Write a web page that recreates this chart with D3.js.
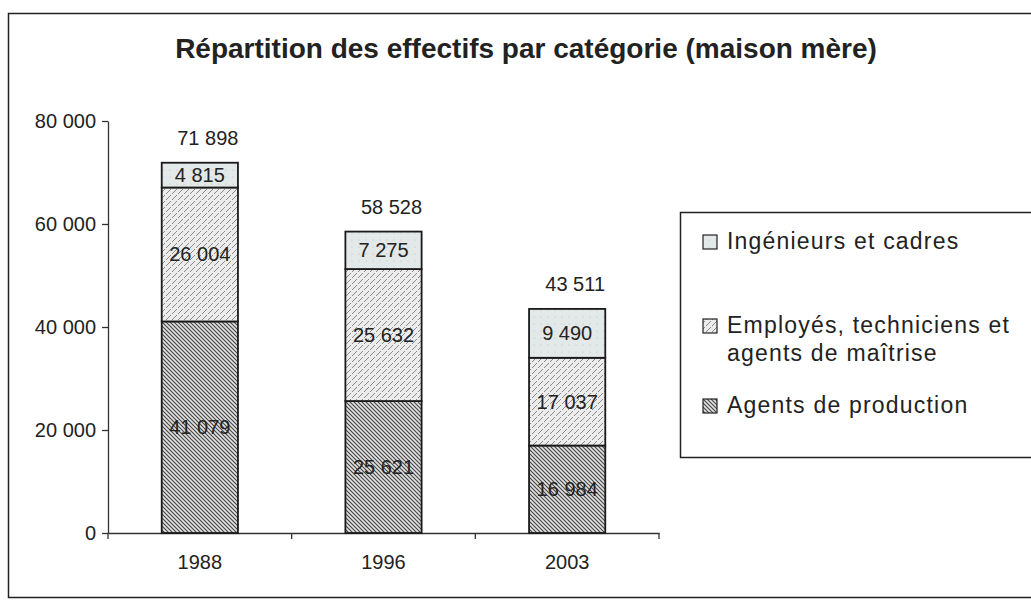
<!DOCTYPE html>
<html>
<head>
<meta charset="utf-8">
<script src="https://cdn.jsdelivr.net/npm/d3@7"></script>
<style>
  body { margin: 0; background: #fff; }
  svg { display: block; font-family: "Liberation Sans", Arial, sans-serif; }
</style>
</head>
<body>
<svg id="chart" width="1031" height="602"></svg>
<script>
// data
var years = ["1988", "1996", "2003"];
var agents = [41079, 25621, 16984];
var employes = [26004, 25632, 17037];
var ingenieurs = [4815, 7275, 9490];
var seriesNames = ["Agents de production", "Employés, techniciens et agents de maîtrise", "Ingénieurs et cadres"];
var yTicks = [0, 20000, 40000, 60000, 80000];

var svg = d3.select("#chart");
var fr = d3.formatLocale({decimal: ",", thousands: " ", grouping: [3], currency: ["", " €"]});
var fmt = fr.format(",d");

// patterns
var defs = svg.append("defs");
var p1 = defs.append("pattern").attr("id", "pAgents").attr("patternUnits", "userSpaceOnUse")
    .attr("width", 4).attr("height", 4);
p1.append("rect").attr("width", 4).attr("height", 4).attr("fill", "#e0e0e0");
p1.append("path").attr("d", "M-1,-1 L5,5 M-1,3 L1,5 M3,-1 L5,1").attr("stroke", "#444").attr("stroke-width", 1.1);

var p2 = defs.append("pattern").attr("id", "pEmpl").attr("patternUnits", "userSpaceOnUse")
    .attr("width", 6).attr("height", 6);
p2.append("rect").attr("width", 6).attr("height", 6).attr("fill", "#ececec");
p2.append("path").attr("d", "M0,6 L3,3 M4,2 L6,0").attr("stroke", "#8a8a8a").attr("stroke-width", 1);

var p3 = defs.append("pattern").attr("id", "pIng").attr("patternUnits", "userSpaceOnUse")
    .attr("width", 7).attr("height", 7);
p3.append("rect").attr("width", 7).attr("height", 7).attr("fill", "#e3e8e8");
p3.append("circle").attr("cx", 2).attr("cy", 2).attr("r", 0.6).attr("fill", "#b8bebe");

var fills = ["url(#pAgents)", "url(#pEmpl)", "url(#pIng)"];

// frame
svg.append("rect").attr("x", 8.5).attr("y", 13.5).attr("width", 1040).attr("height", 584)
    .attr("fill", "none").attr("stroke", "#222").attr("stroke-width", 1.5);

svg.append("text").attr("x", 526).attr("y", 58).attr("text-anchor", "middle")
    .attr("font-size", 28).attr("font-weight", "bold").attr("fill", "#222")
    .text("Répartition des effectifs par catégorie (maison mère)");

var x = d3.scaleBand().domain(years).range([108, 659]).paddingInner(0.585).paddingOuter(0.2925);
var y = d3.scaleLinear().domain([0, 80000]).range([533, 121]);

var rows = years.map(function (yr, i) {
    return {year: yr, agents: agents[i], employes: employes[i], ingenieurs: ingenieurs[i]};
});
var stack = d3.stack().keys(["agents", "employes", "ingenieurs"])(rows);

// axes
var yAxis = svg.append("g").attr("transform", "translate(108,0)")
    .call(d3.axisLeft(y).tickValues(yTicks).tickFormat(fmt).tickSize(6).tickSizeOuter(0).tickPadding(6));
var xAxis = svg.append("g").attr("transform", "translate(0,533)")
    .call(d3.axisBottom(x).tickSize(0).tickPadding(22));
xAxis.selectAll(".tick line").remove();
xAxis.selectAll("line.bound").data(d3.range(years.length + 1)).enter().append("line")
    .attr("class", "bound")
    .attr("x1", function (d) { return x.range()[0] + d * x.step(); })
    .attr("x2", function (d) { return x.range()[0] + d * x.step(); })
    .attr("y1", 0).attr("y2", 6);
[yAxis, xAxis].forEach(function (g) {
    g.selectAll("path.domain").attr("stroke", "#333").attr("stroke-width", 1.3);
    g.selectAll("line").attr("stroke", "#333").attr("stroke-width", 1.3);
    g.selectAll("text").attr("font-size", 20).attr("fill", "#222").attr("font-family", "Liberation Sans, Arial, sans-serif");
});

// bars
var layers = svg.selectAll("g.layer").data(stack).enter().append("g").attr("class", "layer")
    .attr("fill", function (d, i) { return fills[i]; });
layers.selectAll("rect").data(function (d) { return d; }).enter().append("rect")
    .attr("x", function (d) { return x(d.data.year); })
    .attr("width", x.bandwidth())
    .attr("y", function (d) { return y(d[1]); })
    .attr("height", function (d) { return y(d[0]) - y(d[1]); })
    .attr("stroke", "#1a1a1a").attr("stroke-width", 1.8);

// segment labels
layers.selectAll("text").data(function (d) { return d; }).enter().append("text")
    .attr("x", function (d) { return x(d.data.year) + x.bandwidth() / 2; })
    .attr("y", function (d) { return (y(d[0]) + y(d[1])) / 2 + 7; })
    .attr("text-anchor", "middle").attr("font-size", 20).attr("fill", "#222")
    .text(function (d) { return fmt(d[1] - d[0]); });

// totals
svg.selectAll("text.total").data(rows).enter().append("text").attr("class", "total")
    .attr("x", function (d) { return x(d.year) + x.bandwidth() / 2 + 8; })
    .attr("y", function (d) { return y(d.agents + d.employes + d.ingenieurs) - 18; })
    .attr("text-anchor", "middle").attr("font-size", 20).attr("fill", "#222")
    .text(function (d) { return fmt(d.agents + d.employes + d.ingenieurs); });

// legend
var lg = svg.append("g");
lg.append("rect").attr("x", 680.5).attr("y", 212.5).attr("width", 370).attr("height", 245)
    .attr("fill", "#fff").attr("stroke", "#222").attr("stroke-width", 1.5);
var legendItems = [
    {name: seriesNames[2], fill: fills[2], lines: ["Ingénieurs et cadres"], y: 249},
    {name: seriesNames[1], fill: fills[1], lines: ["Employés, techniciens et", "agents de maîtrise"], y: 333},
    {name: seriesNames[0], fill: fills[0], lines: ["Agents de production"], y: 413}
];
var li = lg.selectAll("g.item").data(legendItems).enter().append("g").attr("class", "item");
li.append("rect").attr("x", 703).attr("y", function (d) { return d.y - 14; })
    .attr("width", 14).attr("height", 14).attr("fill", function (d) { return d.fill; })
    .attr("stroke", "#222").attr("stroke-width", 1.2);
li.append("text").attr("x", 727).attr("y", function (d) { return d.y; })
    .attr("font-size", 23).attr("letter-spacing", 1.2).attr("fill", "#222")
    .selectAll("tspan").data(function (d) { return d.lines; }).enter().append("tspan")
    .attr("x", 727).attr("dy", function (d, i) { return i ? 28 : 0; })
    .text(function (d) { return d; });
</script>
</body>
</html>
